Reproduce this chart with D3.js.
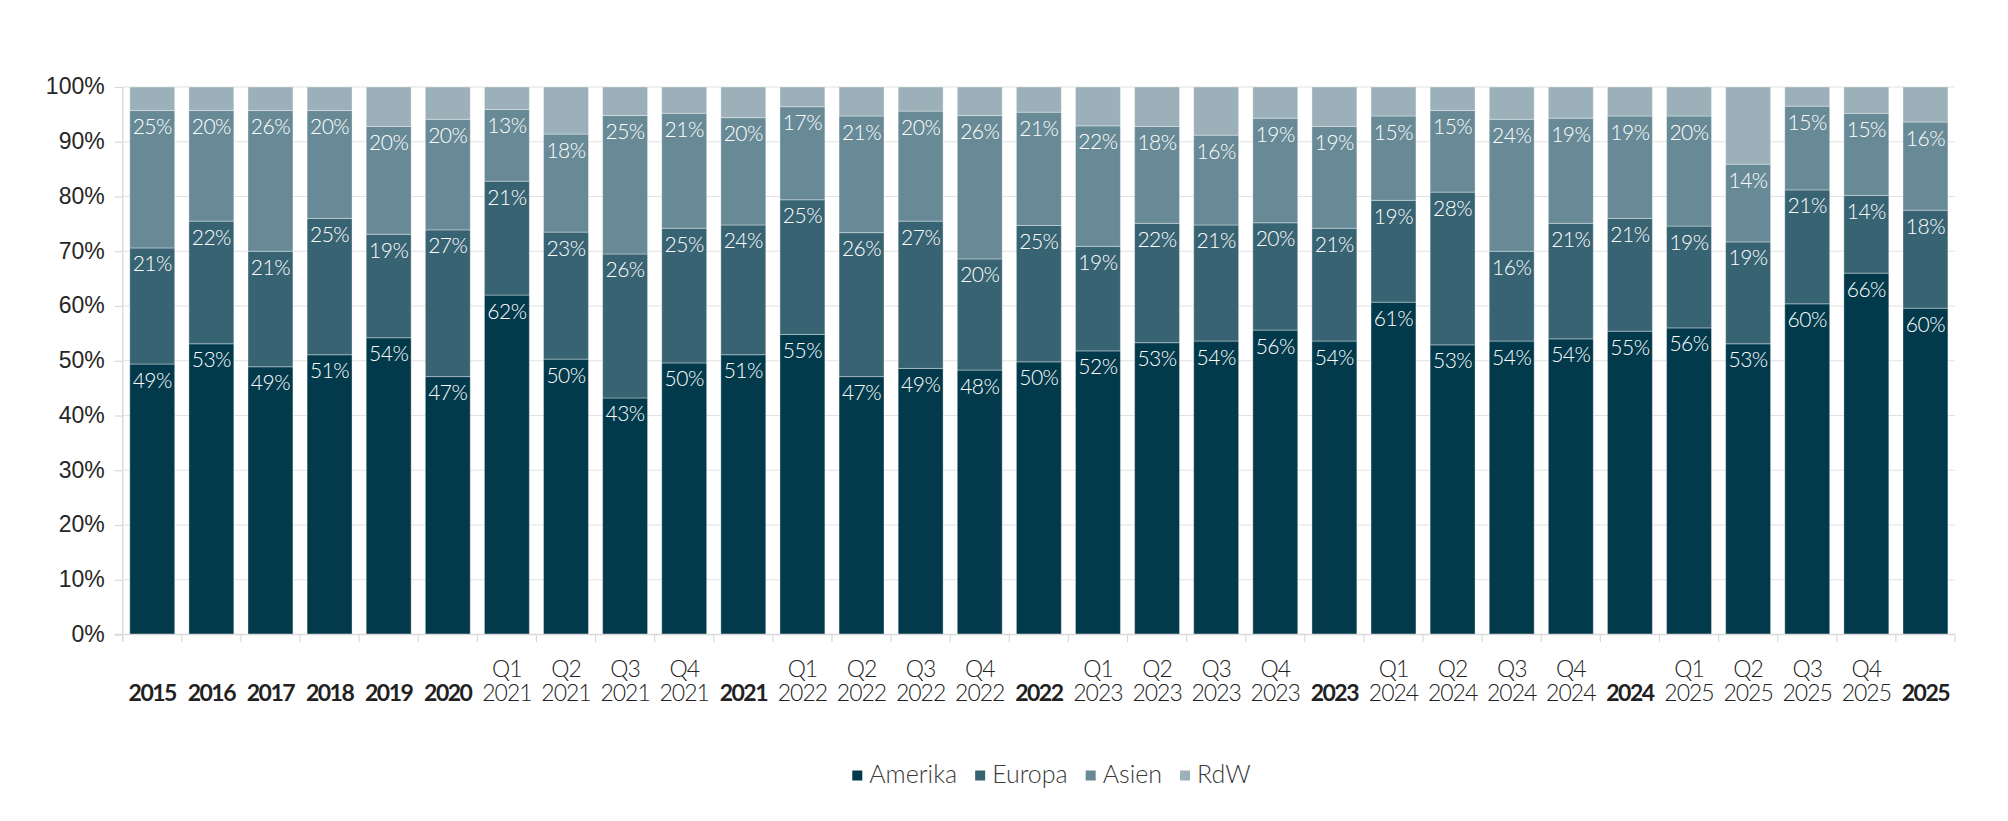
<!DOCTYPE html>
<html>
<head>
<meta charset="utf-8">
<script src="https://cdn.jsdelivr.net/npm/d3@7"></script>
<style>
  body { margin: 0; background: #fff; }
  svg { display: block; font-family: Lato, "Open Sans", sans-serif; }
</style>
</head>
<body>
<svg id="chart" width="2008" height="821"></svg>
<script>
// categories (annual totals are bold, quarters get a "Qn" line above)
const categories = ["2015", "2016", "2017", "2018", "2019", "2020",
  "Q1 2021", "Q2 2021", "Q3 2021", "Q4 2021", "2021",
  "Q1 2022", "Q2 2022", "Q3 2022", "Q4 2022", "2022",
  "Q1 2023", "Q2 2023", "Q3 2023", "Q4 2023", "2023",
  "Q1 2024", "Q2 2024", "Q3 2024", "Q4 2024", "2024",
  "Q1 2025", "Q2 2025", "Q3 2025", "Q4 2025", "2025"];

// shares in percent
const amerika = [49.4, 53.1, 48.9, 51.1, 54.2, 47.1, 62.0, 50.3, 43.2, 49.6, 51.1,
  54.8, 47.1, 48.6, 48.3, 49.8, 51.8, 53.3, 53.6, 55.6, 53.6,
  60.7, 52.9, 53.6, 54.0, 55.4, 56.0, 53.1, 60.4, 66.0, 59.6];
const europa = [21.2, 22.4, 21.1, 24.9, 18.9, 26.8, 20.8, 23.2, 26.3, 24.6, 23.7,
  24.6, 26.3, 26.9, 20.3, 24.9, 19.1, 21.8, 21.2, 19.6, 20.6,
  18.6, 27.9, 16.4, 21.1, 20.6, 18.6, 18.6, 20.8, 14.2, 17.9];
const asien = [25.1, 20.2, 25.7, 19.7, 19.7, 20.2, 13.1, 17.9, 25.3, 21.0, 19.6,
  17.0, 21.3, 20.1, 26.2, 20.7, 22.0, 17.7, 16.4, 19.1, 18.6,
  15.4, 14.9, 24.1, 19.2, 18.7, 20.1, 14.2, 15.3, 15.0, 16.1];
const rdw = [4.3, 4.3, 4.3, 4.3, 7.2, 5.9, 4.1, 8.6, 5.2, 4.8, 5.6,
  3.6, 5.3, 4.4, 5.2, 4.6, 7.1, 7.2, 8.8, 5.7, 7.2,
  5.3, 4.3, 5.9, 5.7, 5.3, 5.3, 14.1, 3.5, 4.8, 6.4];

const seriesNames = ["Amerika", "Europa", "Asien", "RdW"];
const seriesColors = ["#023a4c", "#386373", "#678a96", "#9bb0b8"];
const yTicks = [0, 10, 20, 30, 40, 50, 60, 70, 80, 90, 100];

const table = categories.map((c, i) => ({
  cat: c, Amerika: amerika[i], Europa: europa[i], Asien: asien[i], RdW: rdw[i]
}));

const svg = d3.select("#chart");
const margin = { left: 122.7, right: 2008 - 1955, top: 87, bottom: 821 - 634.5 };
const W = 2008, H = 821;

const x = d3.scaleBand()
  .domain(categories)
  .range([margin.left, W - margin.right])
  .paddingInner(0.24)
  .paddingOuter(0.12);

const y = d3.scaleLinear()
  .domain([0, 100])
  .range([H - margin.bottom, margin.top]);

const color = d3.scaleOrdinal().domain(seriesNames).range(seriesColors);

// gridlines + y labels
const yAxis = svg.append("g")
  .attr("transform", `translate(${margin.left},0)`)
  .call(d3.axisLeft(y).tickValues(yTicks).tickSize(8).tickFormat(d => d + "%"));
yAxis.select(".domain").remove();
yAxis.selectAll(".tick line").attr("stroke", "#d9d9d9").attr("stroke-width", 1.2);
yAxis.selectAll(".tick text")
  .attr("x", -18)
  .attr("dy", "0.3em")
  .attr("fill", "#262626")
  .style("font-size", "23px")
  .style("font-weight", 300);

svg.append("g")
  .selectAll("line")
  .data(yTicks.filter(d => d > 0))
  .join("line")
  .attr("x1", margin.left)
  .attr("x2", W - margin.right)
  .attr("y1", d => y(d))
  .attr("y2", d => y(d))
  .attr("stroke", "#e2e2e2")
  .attr("stroke-width", 1.2);

// left axis line
svg.append("line")
  .attr("x1", margin.left).attr("x2", margin.left)
  .attr("y1", y(100)).attr("y2", y(0) + 7)
  .attr("stroke", "#d9d9d9").attr("stroke-width", 1.5);

// stacked bars
const stack = d3.stack().keys(seriesNames);
const stacked = stack(table);

const layers = svg.append("g")
  .selectAll("g")
  .data(stacked)
  .join("g")
  .attr("fill", d => color(d.key));

layers.selectAll("rect")
  .data(d => d)
  .join("rect")
  .attr("x", d => x(d.data.cat))
  .attr("width", x.bandwidth())
  .attr("y", d => y(d[1]))
  .attr("height", d => y(d[0]) - y(d[1]))
  .attr("stroke", "rgba(255,255,255,0.35)")
  .attr("stroke-width", 1);

// value labels at the top of each segment (not for RdW)
svg.append("g")
  .selectAll("g")
  .data(stacked.filter(s => s.key !== "RdW"))
  .join("g")
  .selectAll("text")
  .data(d => d)
  .join("text")
  .attr("x", d => x(d.data.cat) + x.bandwidth() / 2)
  .attr("y", d => y(d[1]) + 23.5)
  .attr("text-anchor", "middle")
  .attr("fill", "#ffffff")
  .style("font-size", "21px")
  .style("font-weight", 300)
  .style("letter-spacing", "-0.5px")
  .text(d => Math.round(d[1] - d[0]) + "%");

// x axis: baseline + ticks at band boundaries
const x0 = margin.left, x1 = W - margin.right;
svg.append("line")
  .attr("x1", x0 - 8).attr("x2", x1)
  .attr("y1", y(0)).attr("y2", y(0))
  .attr("stroke", "#d9d9d9").attr("stroke-width", 1.5);

const step = x.step();
const boundaries = categories.map(c => x(c) - step * x.paddingInner() / 2)
  .concat([x1]);
svg.append("g")
  .selectAll("line")
  .data(boundaries)
  .join("line")
  .attr("x1", d => d).attr("x2", d => d)
  .attr("y1", y(0)).attr("y2", y(0) + 7.5)
  .attr("stroke", "#d9d9d9").attr("stroke-width", 1.2);

const xLabels = svg.append("g")
  .selectAll("text")
  .data(categories)
  .join("text")
  .attr("text-anchor", "middle")
  .attr("fill", "#222");

xLabels.each(function(c) {
  const t = d3.select(this);
  const cx = x(c) + x.bandwidth() / 2;
  const parts = c.split(" ");
  if (parts.length === 1) {
    t.append("tspan").attr("x", cx).attr("y", 701)
      .style("font-size", "23px")
      .style("letter-spacing", "-1.5px")
      .style("font-weight", 700).text(parts[0]);
  } else {
    t.append("tspan").attr("x", cx).attr("y", 677)
      .style("font-size", "23px")
      .style("letter-spacing", "-1px")
      .style("font-weight", 300).text(parts[0]);
    t.append("tspan").attr("x", cx).attr("y", 701)
      .style("font-size", "23px")
      .style("letter-spacing", "-1px")
      .style("font-weight", 300).text(parts[1]);
  }
});

// legend, centred below the chart
const legend = svg.append("g");
let lx = 0;
seriesNames.forEach(name => {
  const g = legend.append("g").attr("transform", `translate(${lx},0)`);
  g.append("rect").attr("x", 0).attr("y", 770.5).attr("width", 10).attr("height", 10)
    .attr("fill", color(name));
  const txt = g.append("text").attr("x", 17).attr("y", 783)
    .attr("fill", "#3a3a3a")
    .style("font-size", "25px")
    .style("font-weight", 300)
    .text(name);
  lx += 17 + txt.node().getComputedTextLength() + 18;
});
const legendW = lx - 18;
legend.attr("transform", `translate(${1051.5 - legendW / 2},0)`);
</script>
</body>
</html>
